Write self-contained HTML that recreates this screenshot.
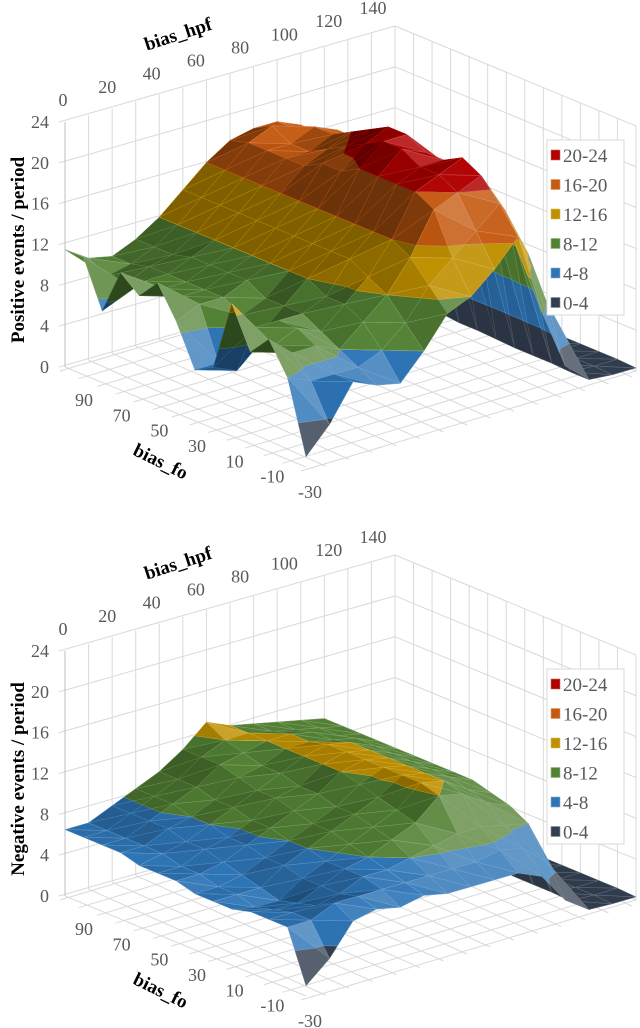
<!DOCTYPE html>
<html><head><meta charset="utf-8"><style>
html,body{margin:0;padding:0;background:#fff;}
svg{display:block;}
svg text{font-family:"Liberation Serif","Times New Roman","DejaVu Serif",serif;}
</style></head><body>
<svg id="chart" width="640" height="1028" viewBox="0 0 640 1028" xmlns="http://www.w3.org/2000/svg"></svg>
<script>
// ---- data ----
const hpfValues = [0,10,20,30,40,50,60,70,80,90,100,110,120,130,140];
const foValues = [100,90,80,70,60,50,40,30,20,10,0,-10,-20,-30];
const zTicks = [0,4,8,12,16,20,24];
const hpfTicks = [0,20,40,60,80,100,120,140];
const foTicks = [90,70,50,30,10,-10,-30];
const bandLabels = ["20-24","16-20","12-16","8-12","4-8","0-4"];
// positive events: one array per hpf value, entries follow foValues
const posZ = [
[11.5,11.5,7,11.5,10,12,9,5,6,13,9,11,8,1],
[10,9,9,10,10,10,10,5,5,10,9,9,7,3.5],
[9.5,9.5,10,10,10,10,10,9,8,10,10,9,7,7],
[10.5,10.5,10.5,11,11,11,11,10,10,10,9,8,7,6],
[12,12,12,12,12,12,12,12,12,11,11,10,8,5.5],
[14,14,14,14,14,14,14,14,14,14,13,12,10,8],
[16,16,16,16,16,16,16,16,16,16,16,15,13,11],
[17.5,18,18,18,18,19,19,20,20,20,20,19,15,12],
[18,19,18,18,19,20,21,22,22,21,21,20,17,14],
[18,18,19,19,20,21,22,22,21,21,22,21,19,16.5],
[17,17,18,18,19,20,20,19,19,19,18,17,14,8.5],
[15,15,15,15,15,15,15,15,16,15,14,12,8,2.5],
[3,2.5,2,1.5,1.2,1,0.8,0.8,0.7,0.6,0.6,0.6,0.5,0.5],
[1.5,1.2,1,0.8,0.5,0.4,0.4,0.4,0.4,0.4,0.4,0.4,0.4,0.3],
[1,0.8,0.6,0.5,0.4,0.4,0.4,0.4,0.4,0.4,0.4,0.4,0.4,0.3]
];
// negative events
const negZ = [
[6.5,6.5,6.5,6.5,6,6,6,5.5,5.5,5.5,6,6,6,1],
[6.5,6.5,6.5,6.5,6.5,6,6,5.5,5.5,5,5.5,6,6,3],
[7.5,7.5,7.5,7.5,7,7,6.5,6,5.5,5,5.5,6,7,6],
[8.5,8.5,8.5,8,8,7.5,7.5,7,7,6.5,6.5,6.5,7,6.5],
[9.5,9.5,9.5,9,9,8.5,8.5,8,8,7.5,7.5,7.5,7,6],
[11,11,11,10.5,10,10,9.5,9,9,8.5,8,7.5,7,6.5],
[13,12,11.5,11,11,10.5,10.5,10,10,9.5,9,8,7,6],
[12,12,12,12,12,12,12,11.5,11,10.5,10,8.5,7,6],
[11.5,11.5,12,12,12.5,12.5,12.5,12.5,12.5,12.5,12,9,7,6],
[11,11,11.5,11.5,12,12,12,12,12,12,11.5,9,7.5,6],
[10.5,10.5,10.5,11,11,11,11,11,11,10.5,10,8.5,7,5],
[10,10,10,10,10,10,10,10,10,9.5,9,8,5,2],
[3,2.5,2,1.5,1.2,1,0.8,0.8,0.7,0.6,0.6,0.6,0.5,0.4],
[1.5,1.2,1,0.8,0.5,0.4,0.4,0.4,0.4,0.4,0.4,0.4,0.4,0.3],
[1,0.8,0.6,0.5,0.4,0.4,0.4,0.4,0.4,0.4,0.4,0.4,0.4,0.3]
];
const bandColors = ["#333f50","#2e75b6","#548235","#bf9000","#c55a11","#b00000"];

// ---- geometry ----
const NS="http://www.w3.org/2000/svg";
const svg=document.getElementById('chart');
const AX=330/14, AY=-96/14, BX=241/13, BY=100/13, KZ=245/24;
const FONT='"Liberation Serif","Times New Roman","DejaVu Serif",serif';
function iOf(h){return h/10;}
function jOf(f){return (100-f)/10;}
function proj(h,f,z,oy){const i=iOf(h),j=jOf(f);return [65+AX*i+BX*j, oy+367+AY*i+BY*j-KZ*z];}
function mk(tag,attrs,parent){const e=document.createElementNS(NS,tag);for(const k in attrs)e.setAttribute(k,attrs[k]);(parent||svg).appendChild(e);return e;}
function hex(c){return [parseInt(c.substr(1,2),16),parseInt(c.substr(3,2),16),parseInt(c.substr(5,2),16)];}
function shadeCol(c,f){const r=hex(c);let o;if(f<=1)o=r.map(v=>v*f);else{const t=Math.min(1,f-1);o=r.map(v=>v+(255-v)*t);}return 'rgb('+o.map(v=>Math.round(Math.max(0,Math.min(255,v)))).join(',')+')';}
function clip(poly,lv,above){const out=[];const n=poly.length;for(let k=0;k<n;k++){const a=poly[k],b=poly[(k+1)%n];const ia=above?a[2]>=lv:a[2]<=lv;const ib=above?b[2]>=lv:b[2]<=lv;if(ia)out.push(a);if(ia!==ib){const t=(lv-a[2])/(b[2]-a[2]);out.push([a[0]+t*(b[0]-a[0]),a[1]+t*(b[1]-a[1]),lv]);}}return out;}
function pstr(pts){return pts.map(p=>p[0].toFixed(1)+','+p[1].toFixed(1)).join(' ');}
function txt(parent,attrs,s){const t=mk('text',attrs,parent);t.style.fontFamily=FONT;t.textContent=s;return t;}

function drawChart(oy,Z,title,prefix){
  const g=mk('g',{});
  
  
  const gc='#d9d9d9';
  const hMin=hpfValues[0],hMax=hpfValues[hpfValues.length-1],fMax=foValues[0],fMin=foValues[foValues.length-1];
  const wl=mk('g',{},g);
  
  
  hpfValues.forEach(h=>{const a=proj(h,fMax,0,oy),b=proj(h,fMax,24,oy);mk('line',{x1:a[0],y1:a[1],x2:b[0],y2:b[1],stroke:gc,'stroke-width':1},wl);});
  zTicks.forEach(z=>{const a=proj(hMin,fMax,z,oy),b=proj(hMax,fMax,z,oy);mk('line',{x1:a[0]-6,y1:a[1],x2:b[0],y2:b[1],stroke:gc,'stroke-width':1},wl);});
  const wr=mk('g',{},g);
  
  
  foValues.forEach(f=>{const a=proj(hMax,f,0,oy),b=proj(hMax,f,24,oy);mk('line',{x1:a[0],y1:a[1],x2:b[0],y2:b[1],stroke:gc,'stroke-width':1},wr);});
  zTicks.forEach(z=>{const a=proj(hMax,fMax,z,oy),b=proj(hMax,fMin,z,oy);mk('line',{x1:a[0],y1:a[1],x2:b[0],y2:b[1],stroke:gc,'stroke-width':1},wr);});
  const fl=mk('g',{},g);
  
  
  hpfValues.forEach(h=>{const a=proj(h,fMax,0,oy),b=proj(h,fMin,0,oy);mk('line',{x1:a[0],y1:a[1],x2:b[0]+(h===hMin?0:-4),y2:b[1]+(h===hMin?0:6),stroke:gc,'stroke-width':1},fl);});
  foValues.forEach(f=>{const a=proj(hMin,f,0,oy),b=proj(hMax,f,0,oy);mk('line',{x1:a[0]-5,y1:a[1]+4,x2:b[0],y2:b[1],stroke:gc,'stroke-width':1},fl);});
  const za=proj(hMin,fMax,0,oy),zb=proj(hMin,fMax,24,oy);
  const zl=mk('line',{x1:za[0],y1:za[1],x2:zb[0],y2:zb[1],stroke:'#bfbfbf','stroke-width':1},g);
  
  

  const sg=mk('g',{},g);
  
  
  const quads=[];
  for(let a=0;a<hpfValues.length-1;a++)for(let b=0;b<foValues.length-1;b++)quads.push([a,b]);
  quads.sort((p,q)=>(AY*p[0]+BY*p[1])-(AY*q[0]+BY*q[1]));
  const L=[0.3,0.8,0.5];const Ln=Math.hypot(...L);
  quads.forEach(([a,b])=>{
    const V=(ia,jb)=>[hpfValues[ia],foValues[jb],Z[ia][jb]];
    const tris=[[V(a,b),V(a+1,b),V(a+1,b+1)],[V(a,b),V(a+1,b+1),V(a,b+1)]];
    tris.forEach(t=>{
      const w=t.map(p=>[iOf(p[0]),jOf(p[1]),p[2]*0.42]);
      const e1=[w[1][0]-w[0][0],w[1][1]-w[0][1],w[1][2]-w[0][2]],e2=[w[2][0]-w[0][0],w[2][1]-w[0][1],w[2][2]-w[0][2]];
      let n=[e1[1]*e2[2]-e1[2]*e2[1],e1[2]*e2[0]-e1[0]*e2[2],e1[0]*e2[1]-e1[1]*e2[0]];
      if(n[2]<0)n=n.map(v=>-v);
      const nl=Math.hypot(...n)||1;
      const d=(n[0]*L[0]+n[1]*L[1]+n[2]*L[2])/(nl*Ln);
      const f=Math.max(0.55,Math.min(1.25,0.5+0.85*d));
      for(let k=0;k<6;k++){
        const lo=k*4,hi=k*4+4;
        let pc=clip(t,lo,true);
        if(pc.length<3)continue;
        pc=clip(pc,hi,false);
        if(pc.length<3)continue;
        const pts=pc.map(p=>proj(p[0],p[1],p[2],oy));
        const base=bandColors[k];
        const pg=mk('polygon',{points:pstr(pts),fill:shadeCol(base,f),stroke:shadeCol(base,Math.min(1.35,f+0.3)),'stroke-width':0.5,'stroke-linejoin':'round'},sg);
        
        
      }
    });
  });

  zTicks.forEach(z=>{const p=proj(hMin,fMax,z,oy);const t=txt(g,{x:49,y:p[1]+6,'text-anchor':'end','font-size':18,fill:'#595959'},z);
    
    });
  hpfTicks.forEach(h=>{const u=(h-hMin)/(hMax-hMin);const x=63+310*u,y=100-92*u;const t=txt(g,{x:x,y:y+oy+6,'text-anchor':'middle','font-size':18,fill:'#595959'},h);
    
    });
  foTicks.forEach(f=>{const u=(90-f)/120;const x=84+226*u,y=400+92*u;const t=txt(g,{x:x,y:y+oy+6,'text-anchor':'middle','font-size':18,fill:'#595959'},f);
    
    });
  const ty=txt(g,{x:0,y:0,transform:'translate(24,'+(250+oy)+') rotate(-90)','text-anchor':'middle','font-size':19,'font-weight':'bold',fill:'#000'},title);
  
  
  const th=txt(g,{x:0,y:0,transform:'translate(180,'+(40+oy)+') rotate(-18)','text-anchor':'middle','font-size':19,'font-weight':'bold',fill:'#000'},'bias_hpf');
  
  
  const tf=txt(g,{x:0,y:0,transform:'translate(158,'+(467+oy)+') rotate(26)','text-anchor':'middle','font-size':19,'font-weight':'bold',fill:'#000'},'bias_fo');
  
  
  const lg=mk('g',{},g);
  
  
  mk('rect',{x:547,y:140+oy,width:77,height:175,fill:'#fff',stroke:'#d9d9d9','stroke-width':1},lg);
  bandLabels.forEach((lab,k)=>{
    const y=155+k*29.5+oy;
    const col=bandColors[5-k];
    const e=mk('g',{},lg);
    
    
    mk('rect',{x:551,y:y-5,width:9,height:10,fill:col,stroke:shadeCol(col,1.4),'stroke-width':0.6},e);
    txt(e,{x:563,y:y+7,'font-size':19,fill:'#595959'},lab);
  });
}
drawChart(0,posZ,'Positive events / period','positive');
drawChart(529,negZ,'Negative events / period','negative');
</script>
</body></html>
